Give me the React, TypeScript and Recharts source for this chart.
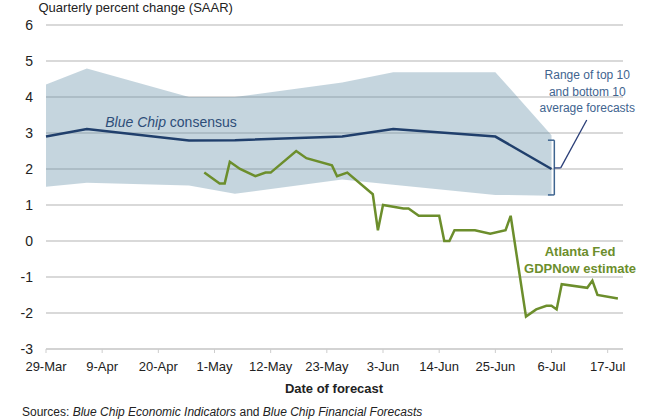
import React from 'react'
import { ComposedChart, Area, Line, XAxis, YAxis, CartesianGrid, ReferenceLine, ReferenceDot } from 'recharts'

// days counted from 29-Mar
const tickDays = [0, 11, 22, 33, 44, 55, 66, 77, 88, 99, 110]
const tickLabels = ['29-Mar', '9-Apr', '20-Apr', '1-May', '12-May', '23-May', '3-Jun', '14-Jun', '25-Jun', '6-Jul', '17-Jul']
const yTicks = [-3, -2, -1, 0, 1, 2, 3, 4, 5, 6]

// Blue Chip consensus and range of top/bottom 10
const bcDays = [0, 8, 28, 37, 58, 68, 88, 99]
const bcConsensus = [2.9, 3.11, 2.79, 2.8, 2.9, 3.11, 2.9, 2.0]
const bcLow = [1.51, 1.62, 1.54, 1.31, 1.71, 1.56, 1.28, 1.26]
const bcHigh = [4.35, 4.79, 4.0, 4.0, 4.4, 4.69, 4.69, 2.94]

// Atlanta Fed GDPNow
const gdpDays = [31, 34, 35, 36, 38, 41, 43, 44, 49, 51, 56, 57, 59, 64, 65, 66, 70, 71, 73, 77, 78, 79, 80, 84, 87, 90, 91, 94, 96, 98, 99, 100, 101, 106, 107, 108, 112]
const gdpValues = [1.9, 1.6, 1.6, 2.2, 2.0, 1.8, 1.9, 1.9, 2.5, 2.3, 2.1, 1.8, 1.9, 1.3, 0.3, 1.0, 0.9, 0.9, 0.7, 0.7, 0.0, 0.0, 0.3, 0.3, 0.2, 0.3, 0.7, -2.1, -1.9, -1.8, -1.8, -1.9, -1.2, -1.3, -1.1, -1.5, -1.6]

const bcData = bcDays.map((day, i) => ({ day, consensus: bcConsensus[i], low: bcLow[i], high: bcHigh[i] }))
const gdpData = gdpDays.map((day, i) => ({ day, value: gdpValues[i] }))

const font = '"Liberation Sans", Arial, sans-serif'
const bracketColor = '#3f6590'

export default function App() {
  return (
    <div style={{ position: 'absolute', left: 0, top: 0, width: 660, height: 420, background: '#fff', fontFamily: font }}>
      <ComposedChart width={660} height={420} margin={{ top: 25, right: 37, left: 0, bottom: 41 }}>
        <CartesianGrid vertical={false} stroke="#cdcdcd" strokeWidth={1.4} />
        <XAxis
          dataKey="day"
          type="number"
          domain={[0, 113]}
          ticks={tickDays}
          tickFormatter={(v: number) => tickLabels[tickDays.indexOf(v)] ?? ''}
          height={30}
          stroke="#cdcdcd"
          tickSize={4}
          tickMargin={9}
          tick={{ fill: '#222', fontSize: 13, fontFamily: font }}
          allowDuplicatedCategory={false}
        />
        <YAxis
          type="number"
          domain={[-3, 6]}
          ticks={yTicks}
          width={46}
          axisLine={false}
          tickLine={false}
          tickSize={6}
          tickMargin={7}
          tick={{ fill: '#222', fontSize: 14, fontFamily: font }}
        />
        <Area
          data={bcData}
          dataKey={(d: any) => [d.low, d.high]}
          type="linear"
          fill="#5f8aa3"
          fillOpacity={0.36}
          stroke="none"
          isAnimationActive={false}
        />
        <Line
          data={bcData}
          dataKey="consensus"
          type="linear"
          stroke="#203f6c"
          strokeWidth={2.5}
          dot={false}
          activeDot={false}
          isAnimationActive={false}
        />
        <Line
          data={gdpData}
          dataKey="value"
          type="linear"
          stroke="#6c8e2c"
          strokeWidth={2.5}
          dot={false}
          activeDot={false}
          isAnimationActive={false}
        />

        {/* bracket for the range */}
        <ReferenceLine segment={[{ x: 98.3, y: 2.8 }, { x: 99.55, y: 2.8 }]} stroke={bracketColor} strokeWidth={1.5} ifOverflow="visible" />
        <ReferenceLine segment={[{ x: 99.55, y: 2.8 }, { x: 99.55, y: 1.28 }]} stroke={bracketColor} strokeWidth={1.5} ifOverflow="visible" />
        <ReferenceLine segment={[{ x: 98.3, y: 1.28 }, { x: 99.55, y: 1.28 }]} stroke={bracketColor} strokeWidth={1.5} ifOverflow="visible" />
        <ReferenceLine segment={[{ x: 99.55, y: 2.03 }, { x: 100.8, y: 2.03 }]} stroke="#2b3f78" strokeWidth={1.3} ifOverflow="visible" />
        <ReferenceLine segment={[{ x: 100.8, y: 2.03 }, { x: 105.9, y: 3.36 }]} stroke="#2b3f78" strokeWidth={1.3} ifOverflow="visible" />

        <ReferenceDot
          x={11.6}
          y={3.18}
          r={0}
          ifOverflow="visible"
          shape={(p: any) => (
            <text x={p.cx} y={p.cy} fill="#2d4d78" fontSize={14} fontFamily={font}>
              <tspan fontStyle="italic">Blue Chip</tspan> consensus
            </text>
          )}
        />
        <ReferenceDot
          x={106}
          y={4.49}
          r={0}
          ifOverflow="visible"
          shape={(p: any) => (
            <text x={p.cx} y={p.cy} fill="#41648f" fontSize={12} fontFamily={font} textAnchor="middle">
              <tspan x={p.cx} dy={0}>Range of top 10</tspan>
              <tspan x={p.cx} dy={16.3}>and bottom 10</tspan>
              <tspan x={p.cx} dy={16.3}>average forecasts</tspan>
            </text>
          )}
        />
        <ReferenceDot
          x={104.6}
          y={-0.42}
          r={0}
          ifOverflow="visible"
          shape={(p: any) => (
            <text x={p.cx} y={p.cy} fill="#6c8e2c" fontSize={13} fontWeight="bold" fontFamily={font} textAnchor="middle">
              <tspan x={p.cx} dy={0}>Atlanta Fed</tspan>
              <tspan x={p.cx} dy={16.6}>GDPNow estimate</tspan>
            </text>
          )}
        />
      </ComposedChart>

      <svg width={660} height={420} style={{ position: 'absolute', left: 0, top: 0, pointerEvents: 'none' }}>
        <text x={38.5} y={12} fontSize={13} fill="#222" fontFamily={font}>Quarterly percent change (SAAR)</text>
        <text x={334} y={393} fontSize={13} fontWeight="bold" fill="#222" fontFamily={font} textAnchor="middle">Date of forecast</text>
        <text x={22} y={416} fontSize={12} fill="#222" fontFamily={font}>
          Sources: <tspan fontStyle="italic">Blue Chip Economic Indicators</tspan> and <tspan fontStyle="italic">Blue Chip Financial Forecasts</tspan>
        </text>
      </svg>
    </div>
  )
}
